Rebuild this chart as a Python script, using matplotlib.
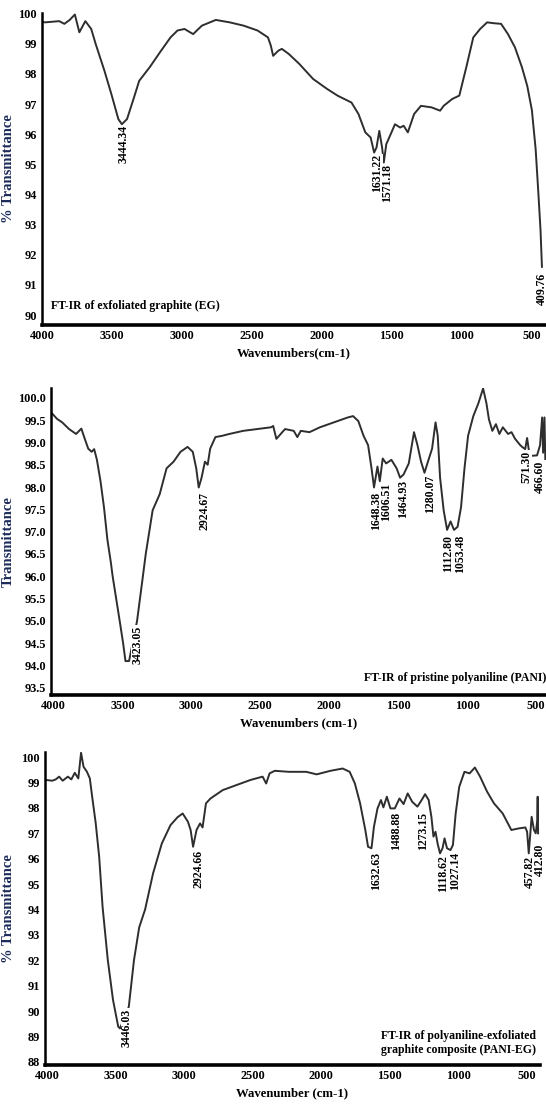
import matplotlib
matplotlib.use("Agg")
import matplotlib.pyplot as plt
import numpy as np

# ---- data (wavenumber cm-1, %T) ----
EG_POINTS = [
    (3995, 99.72), (3977, 99.71), (3877, 99.75), (3840, 99.66), (3802, 99.79), (3765, 99.97),
    (3733, 99.38), (3690, 99.75), (3648, 99.49), (3616, 98.99), (3554, 98.11), (3504, 97.33),
    (3454, 96.50), (3429, 96.33), (3392, 96.50), (3342, 97.22), (3305, 97.77), (3230, 98.22),
    (3156, 98.72), (3081, 99.21), (3031, 99.44), (2981, 99.49), (2919, 99.32), (2857, 99.60),
    (2757, 99.79), (2658, 99.71), (2558, 99.60), (2459, 99.44), (2384, 99.21), (2364, 98.94),
    (2347, 98.60), (2310, 98.77), (2285, 98.83), (2235, 98.66), (2160, 98.33), (2061, 97.83),
    (1961, 97.50), (1887, 97.28), (1787, 97.05), (1737, 96.67), (1688, 96.06), (1650, 95.89),
    (1625, 95.39), (1608, 95.56), (1588, 96.11), (1568, 95.56), (1556, 95.06), (1538, 95.67),
    (1501, 96.06), (1476, 96.33), (1439, 96.22), (1414, 96.28), (1384, 96.06), (1339, 96.67),
    (1290, 96.94), (1215, 96.89), (1153, 96.78), (1128, 96.94), (1066, 97.17), (1016, 97.28),
    (966, 98.22), (916, 99.21), (867, 99.49), (817, 99.71), (767, 99.68), (717, 99.66),
    (668, 99.32), (618, 98.88), (568, 98.22), (530, 97.60), (497, 96.80), (470, 95.50),
    (450, 94.00), (435, 92.80), (425, 91.60),
]
EG_PEAKS = [("3444.34", 3417, 96.30), ("1631.22", 1606, 95.35),
            ("1571.18", 1531, 95.00), ("409.76", 425, 91.40)]

PANI_POINTS = [
    (4013, 99.66), (3975, 99.53), (3937, 99.45), (3887, 99.30), (3836, 99.19), (3798, 99.31),
    (3773, 99.08), (3748, 98.86), (3723, 98.79), (3705, 98.85), (3685, 98.61), (3659, 98.13),
    (3634, 97.55), (3609, 96.82), (3584, 96.31), (3571, 96.00), (3520, 95.00), (3495, 94.50),
    (3478, 94.10), (3452, 94.10), (3394, 95.00), (3356, 95.90), (3331, 96.50), (3281, 97.48),
    (3230, 97.84), (3180, 98.42), (3129, 98.57), (3079, 98.79), (3028, 98.90), (2990, 98.79),
    (2965, 98.42), (2947, 97.99), (2927, 98.20), (2902, 98.57), (2882, 98.50), (2864, 98.86),
    (2826, 99.12), (2775, 99.15), (2725, 99.19), (2624, 99.26), (2523, 99.30), (2422, 99.34),
    (2407, 99.37), (2384, 99.08), (2321, 99.30), (2258, 99.26), (2232, 99.12), (2207, 99.26),
    (2144, 99.23), (2068, 99.34), (1967, 99.45), (1866, 99.56), (1828, 99.59), (1790, 99.48),
    (1752, 99.15), (1719, 98.94), (1694, 98.42), (1676, 97.99), (1651, 98.46), (1634, 98.13),
    (1613, 98.64), (1588, 98.53), (1550, 98.61), (1512, 98.42), (1487, 98.21), (1462, 98.28),
    (1424, 98.53), (1386, 99.23), (1361, 98.94), (1335, 98.57), (1310, 98.32), (1285, 98.57),
    (1255, 98.86), (1230, 99.45), (1214, 99.15), (1197, 98.21), (1171, 97.48), (1146, 97.04),
    (1121, 97.23), (1096, 97.04), (1070, 97.11), (1045, 97.55), (1020, 98.42), (994, 99.15),
    (956, 99.59), (919, 99.88), (885, 100.21), (861, 99.88), (843, 99.52), (818, 99.26),
    (792, 99.41), (767, 99.19), (742, 99.34), (704, 99.19), (679, 99.23), (653, 99.08),
    (616, 98.94), (602, 98.90), (580, 98.85), (566, 99.10), (550, 98.75), (537, 98.70),
    (494, 98.71), (472, 98.94), (457, 99.56), (450, 98.77), (440, 99.56), (432, 98.30),
]
PANI_PEAKS = [("3423.05", 3394, 94.90), ("2924.67", 2902, 97.90), ("1648.38", 1664, 97.90),
              ("1606.51", 1588, 98.09), ("1464.93", 1467, 98.16), ("1280.07", 1272, 98.27),
              ("1112.80", 1136, 96.93), ("1053.48", 1050, 96.93), ("571.30", 573, 98.82),
              ("466.60", 476, 98.60)]

PE_POINTS = [
    (4010, 99.10), (3962, 99.07), (3937, 99.12), (3912, 99.23), (3886, 99.07), (3848, 99.23),
    (3823, 99.12), (3798, 99.38), (3772, 99.16), (3752, 100.17), (3734, 99.62), (3709, 99.42),
    (3688, 99.16), (3671, 98.44), (3645, 97.39), (3620, 96.08), (3595, 94.10), (3557, 92.01),
    (3519, 90.44), (3481, 89.39), (3468, 89.32), (3404, 90.17), (3366, 92.01), (3328, 93.30),
    (3285, 94.00), (3227, 95.42), (3163, 96.60), (3100, 97.32), (3049, 97.63), (3011, 97.78),
    (2973, 97.46), (2953, 97.13), (2935, 96.47), (2910, 97.13), (2884, 97.39), (2866, 97.23),
    (2841, 98.18), (2808, 98.37), (2719, 98.70), (2618, 98.90), (2516, 99.10), (2428, 99.23),
    (2402, 98.96), (2377, 99.36), (2339, 99.46), (2237, 99.42), (2110, 99.42), (2034, 99.32),
    (1933, 99.46), (1844, 99.55), (1793, 99.42), (1755, 98.96), (1717, 98.18), (1679, 97.13),
    (1659, 96.47), (1634, 96.41), (1616, 97.26), (1590, 97.98), (1565, 98.31), (1547, 98.02),
    (1522, 98.44), (1496, 97.98), (1464, 97.98), (1430, 98.37), (1400, 98.15), (1370, 98.57),
    (1337, 98.24), (1299, 98.05), (1268, 98.31), (1243, 98.54), (1217, 98.31), (1197, 97.65),
    (1182, 96.87), (1167, 97.06), (1152, 96.60), (1134, 96.21), (1116, 96.41), (1101, 96.80),
    (1083, 96.41), (1058, 96.34), (1040, 96.54), (1020, 97.78), (994, 98.83), (956, 99.42),
    (918, 99.36), (880, 99.59), (842, 99.23), (791, 98.64), (741, 98.18), (677, 97.78),
    (614, 97.13), (563, 97.19), (512, 97.23), (499, 97.06), (487, 96.21), (466, 97.65),
    (449, 97.13), (436, 97.00), (425, 97.50), (422, 98.44), (419, 97.00),
]
PE_PEAKS = [("3446.03", 3417, 90.10), ("2924.66", 2897, 96.34), ("1632.63", 1603, 96.28),
            ("1488.88", 1451, 97.85), ("1273.15", 1261, 97.85), ("1118.62", 1110, 96.14),
            ("1027.14", 1026, 96.28), ("457.82", 482, 96.10), ("412.80", 404, 96.60)]

X_TICKS = [4000, 3500, 3000, 2500, 2000, 1500, 1000, 500]

W, H = 546, 1104
SERIF = ["Liberation Serif", "DejaVu Serif"]
NAVY = "#1c2b5a"

fig = plt.figure(figsize=(W / 100, H / 100), dpi=100)
fig.patch.set_facecolor("white")


def px_axes(left, top, right, bottom):
    return fig.add_axes([left / W, 1 - bottom / H, (right - left) / W, (bottom - top) / H])


def draw_panel(ax, points, peaks, xlim, ylim, yticks, yfmt, xlabel, ylabel, ylab_x):
    wn, t = zip(*points)
    ax.plot(wn, t, color="#2e2e2e", lw=1.4)
    ax.set_xlim(*xlim)
    ax.set_ylim(*ylim)
    ax.set_xticks(X_TICKS)
    ax.set_yticks(yticks)
    ax.set_yticklabels([yfmt.format(v) for v in yticks])
    for s in ("top", "right"):
        ax.spines[s].set_visible(False)
    ax.spines["bottom"].set_linewidth(2.6)
    ax.spines["left"].set_linewidth(1.8)
    ax.tick_params(length=0, pad=3.5)
    for lab in ax.get_xticklabels() + ax.get_yticklabels():
        lab.set_fontfamily(SERIF)
        lab.set_fontweight("bold")
        lab.set_fontsize(8.8)
    ax.set_xlabel(xlabel, family=SERIF, weight="bold", fontsize=9.2, labelpad=4)
    ax.set_ylabel(ylabel, family=SERIF, weight="bold", fontsize=10.5, color=NAVY)
    ax.yaxis.set_label_coords(ylab_x, 0.5)
    for txt, x, y in peaks:
        ax.text(x, y, txt, rotation=90, ha="center", va="top", family=SERIF,
                weight="bold", fontsize=8.5, clip_on=False,
                bbox=dict(fc="white", ec="none", pad=0.05))


ax1 = px_axes(42, 13, 546, 325)
draw_panel(ax1, EG_POINTS, EG_PEAKS, (4000, 396), (89.67, 100.02),
           list(range(90, 101)), "{:d}", "Wavenumbers(cm-1)", "% Transmittance", -0.054)
ax1.text(0.018, 0.061, "FT-IR of exfoliated graphite (EG)", transform=ax1.transAxes,
         ha="left", va="center", family=SERIF, weight="bold", fontsize=8.5)

ax2 = px_axes(51, 388, 546, 695)
draw_panel(ax2, PANI_POINTS, PANI_PEAKS, (4018, 429), (93.34, 100.22),
           list(np.arange(93.5, 100.01, 0.5)), "{:.1f}", "Wavenumbers (cm-1)",
           "Transmittance", -0.073)
ax2.text(1.0, 0.055, "FT-IR of pristine polyaniline (PANI)", transform=ax2.transAxes,
         ha="right", va="center", family=SERIF, weight="bold", fontsize=8.5)

ax3 = px_axes(45, 752, 540, 1065)
draw_panel(ax3, PE_POINTS, PE_PEAKS, (4015, 405), (87.88, 100.2),
           list(range(88, 101)), "{:d}", "Wavenumber (cm-1)", "% Transmittance", -0.061)
ax3.text(0.992, 0.07, "FT-IR of polyaniline-exfoliated\ngraphite composite (PANI-EG)",
         transform=ax3.transAxes, ha="right", va="center", multialignment="left",
         family=SERIF, weight="bold", fontsize=8.5, linespacing=1.3)

fig.savefig("out.png", dpi=100, facecolor="white")
